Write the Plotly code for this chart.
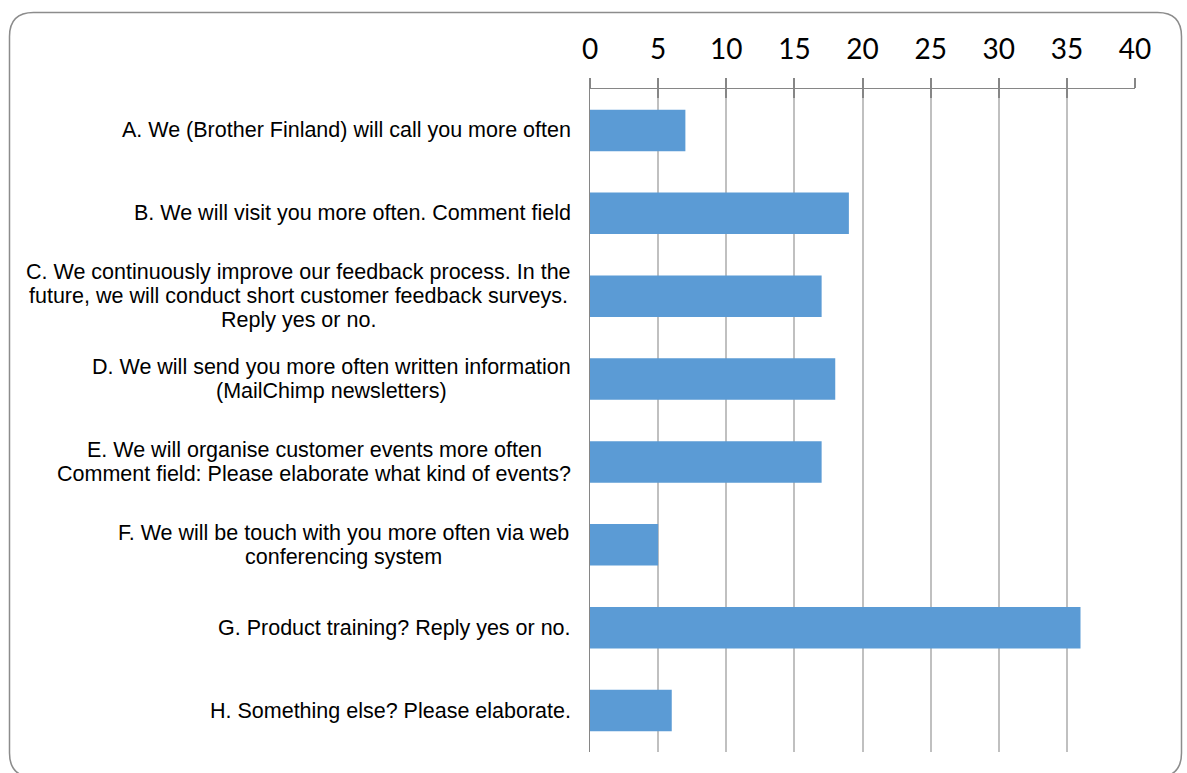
import plotly.graph_objects as go

# Survey answers (one bar per option) and response counts
keys = ["A", "B", "C", "D", "E", "F", "G", "H"]
labels = [
    "A. We (Brother Finland) will call you more often",
    "B. We will visit you more often. Comment field",
    "C. We continuously improve our feedback process. In the\nfuture, we will conduct short customer feedback surveys.\nReply yes or no.",
    "D. We will send you more often written information\n(MailChimp newsletters)",
    "E. We will organise customer events more often\nComment field: Please elaborate what kind of events?",
    "F. We will be touch with you more often via web\nconferencing system",
    "G. Product training? Reply yes or no.",
    "H. Something else? Please elaborate.",
]
counts = [7, 19, 17, 18, 17, 5, 36, 6]
tick_vals = [0, 5, 10, 15, 20, 25, 30, 35, 40]

W, H = 1187, 773
L, R, T, B = 590, 52, 89, 21
pw, ph = W - L - R, H - T - B


def px(x):
    return (x - L) / pw


def py(y):
    return (H - B - y) / ph


# Arial / Liberation Sans advance widths (1/1000 em) used to centre label lines
ARIAL = {
    " ": 278, "(": 333, ")": 333, ",": 278, ".": 278, ":": 278, "?": 556,
    "A": 667, "B": 667, "C": 722, "D": 722, "E": 667, "F": 611, "G": 778,
    "H": 722, "I": 278, "M": 833, "P": 667, "R": 722, "S": 667, "W": 944,
    "a": 556, "b": 556, "c": 500, "d": 556, "e": 556, "f": 278, "g": 556,
    "h": 556, "i": 222, "j": 222, "k": 500, "l": 222, "m": 833, "n": 556,
    "o": 556, "p": 556, "q": 556, "r": 333, "s": 500, "t": 278, "u": 556,
    "v": 500, "w": 722, "x": 500, "y": 500, "z": 500,
}
LABEL_SIZE = 21.5
LINE_STEP = 23.8
LABEL_RIGHT = 571


def text_width(s):
    return sum(ARIAL.get(ch, 556) for ch in s) / 1000 * LABEL_SIZE


fig = go.Figure()
fig.add_trace(go.Bar(
    x=counts, y=keys, orientation="h",
    marker=dict(color="#5B9BD5", line=dict(width=0)),
    hoverinfo="x+y",
))

axis_grey = "#868686"
fig.update_layout(
    width=W, height=H,
    margin=dict(l=L, r=R, t=T, b=B, pad=0),
    paper_bgcolor="white", plot_bgcolor="white",
    bargap=0.5,
    showlegend=False,
    xaxis=dict(
        range=[0, 40], side="top", tickvals=tick_vals,
        showgrid=True, gridcolor="#C0C0C0", gridwidth=2,
        zeroline=False,
        showline=True, linecolor=axis_grey, linewidth=1,
        ticks="outside", ticklen=10, tickwidth=1.5, tickcolor=axis_grey,
        tickfont=dict(family="Lato", size=28, color="black"),
        ticklabelstandoff=8,
        fixedrange=True,
    ),
    xaxis2=dict(
        range=[0, 40], side="top", overlaying="x", tickvals=tick_vals,
        showgrid=False, zeroline=False, showline=False,
        ticks="inside", ticklen=9, tickwidth=1.5, tickcolor=axis_grey,
        showticklabels=False,
    ),
    yaxis=dict(
        categoryorder="array", categoryarray=keys, autorange="reversed",
        showticklabels=False, showgrid=False, zeroline=False,
        showline=True, linecolor=axis_grey, linewidth=1,
        ticks="",
    ),
)

# invisible trace so the inside-tick overlay axis is rendered
fig.add_trace(go.Scatter(x=[0], y=[keys[0]], xaxis="x2", mode="markers",
                         marker=dict(opacity=0), hoverinfo="skip"))

# category labels: block right-aligned to the axis, each line centred in it
for k, lab in zip(keys, labels):
    lines = lab.split("\n")
    block_w = max(text_width(s) for s in lines)
    cx = LABEL_RIGHT - block_w / 2
    mid = (len(lines) - 1) / 2
    for i, line in enumerate(lines):
        fig.add_annotation(
            x=px(cx), xref="paper", y=k, yref="y",
            text=line, showarrow=False,
            xanchor="center", yanchor="middle",
            yshift=(mid - i) * LINE_STEP,
            font=dict(family="Liberation Sans, Arial", size=LABEL_SIZE,
                      color="black"),
        )

# rounded frame around the whole chart
x0, x1, y0, y1, r = 9.5, 1181.5, 12.5, 777, 24
path = (
    f"M {px(x0 + r)},{py(y0)} L {px(x1 - r)},{py(y0)} "
    f"Q {px(x1)},{py(y0)} {px(x1)},{py(y0 + r)} "
    f"L {px(x1)},{py(y1 - r)} Q {px(x1)},{py(y1)} {px(x1 - r)},{py(y1)} "
    f"L {px(x0 + r)},{py(y1)} Q {px(x0)},{py(y1)} {px(x0)},{py(y1 - r)} "
    f"L {px(x0)},{py(y0 + r)} Q {px(x0)},{py(y0)} {px(x0 + r)},{py(y0)} Z"
)
fig.add_shape(type="path", path=path, xref="paper", yref="paper",
              line=dict(color="#8C8C8C", width=1.5), layer="above")

fig.write_html("out.html")
